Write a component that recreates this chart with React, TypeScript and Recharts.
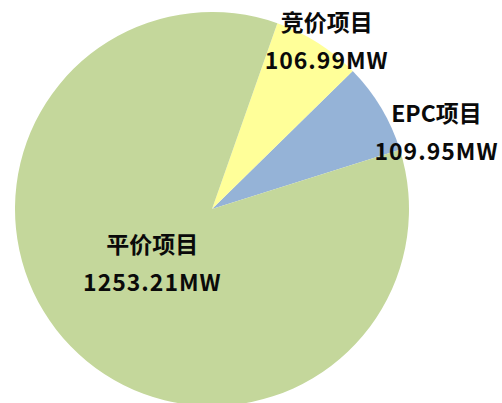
import React from 'react';
import { PieChart, Pie, Cell } from 'recharts';

const names = ['EPC项目', '竞价项目', '平价项目'];
const values = [109.95, 106.99, 1253.21];
const colors = ['#95B3D7', '#FFFF99', '#C4D79B'];

// where each label sits: distance from centre and turn from the slice middle
const labelRadius = [236, 200, 83];
const labelTurn = [-13, -2.5, 0];

const data = names.map((name, i) => ({ name, value: values[i] }));

const RAD = Math.PI / 180;

const renderLabel = (props: any) => {
  const { cx, cy, midAngle, index, name, value } = props;
  const a = (midAngle + labelTurn[index]) * RAD;
  const x = cx + labelRadius[index] * Math.cos(a);
  const y = cy - labelRadius[index] * Math.sin(a);
  return (
    <text
      x={x}
      y={y}
      textAnchor="middle"
      fill="#0a0a0a"
      fontWeight="bold"
      fontSize={23}
      fontFamily="'Microsoft YaHei', 'Noto Sans CJK SC', sans-serif"
    >
      <tspan x={x} dy={-14}>{name}</tspan>
      <tspan x={x} dy={38} letterSpacing={1}>{value.toFixed(2)}MW</tspan>
    </text>
  );
};

export default function App() {
  return (
    <div style={{ position: 'absolute', left: 0, top: 0, width: 502, height: 403, background: '#fff' }}>
      <PieChart width={502} height={403}>
        <Pie
          data={data}
          dataKey="value"
          nameKey="name"
          cx={207}
          cy={204}
          outerRadius={197}
          startAngle={17.5}
          endAngle={377.5}
          stroke="none"
          label={renderLabel}
          labelLine={false}
          isAnimationActive={false}
        >
          {data.map((d, i) => (
            <Cell key={d.name} fill={colors[i]} />
          ))}
        </Pie>
      </PieChart>
    </div>
  );
}
